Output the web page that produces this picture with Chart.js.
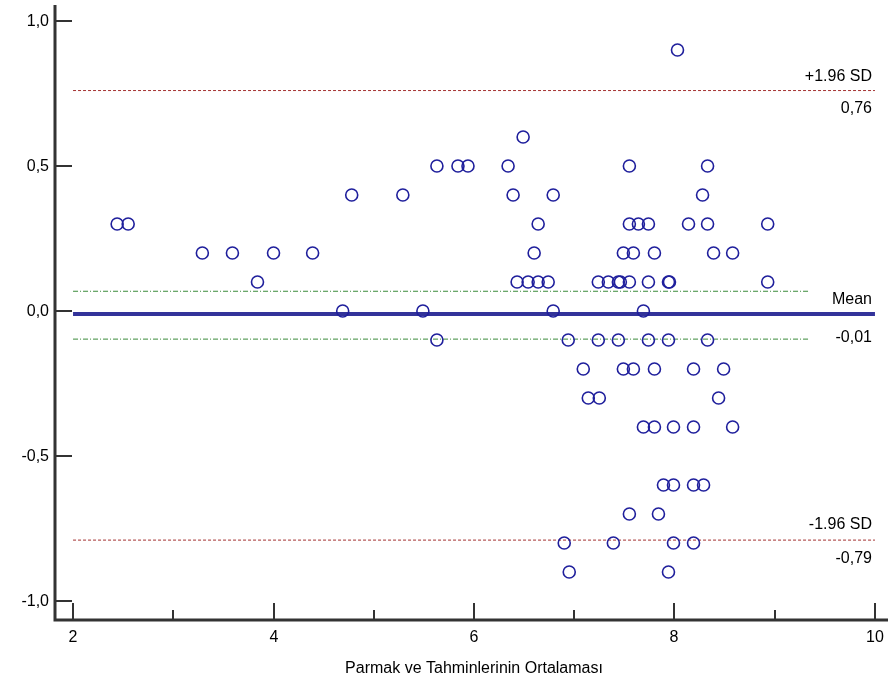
<!DOCTYPE html>
<html>
<head>
<meta charset="utf-8">
<script src="https://cdn.jsdelivr.net/npm/chart.js@4.4.1/dist/chart.umd.min.js"></script>
<style>
  html, body { margin: 0; padding: 0; background: #fff; }
  #wrap { width: 890px; height: 686px; }
</style>
</head>
<body>
<div id="wrap"><canvas id="baChart"></canvas></div>
<script>
// Averages of the two methods (x) and their differences (y)
const avgValues = [
  8.03,
  6.49,
  5.63, 5.84, 5.94, 6.34, 7.55, 8.33,
  4.78, 5.29, 6.39, 6.79, 8.28,
  2.44, 2.55, 6.64, 7.55, 7.64, 7.74, 8.14, 8.33, 8.93,
  3.29, 3.59, 4.00, 4.39, 6.60, 7.49, 7.59, 7.80, 8.39, 8.58,
  3.84, 6.43, 6.54, 6.64, 6.74, 7.24, 7.34, 7.44, 7.46, 7.55, 7.74, 7.94, 7.95, 8.93,
  4.69, 5.49, 6.79, 7.69,
  5.63, 6.94, 7.24, 7.44, 7.74, 7.94, 8.33,
  7.09, 7.49, 7.59, 7.80, 8.19, 8.49,
  7.14, 7.25, 8.44,
  7.69, 7.80, 7.99, 8.19, 8.58,
  7.89, 7.99, 8.19, 8.29,
  7.55, 7.84,
  6.90, 7.39, 7.99, 8.19,
  6.95, 7.94
];
const diffValues = [
  0.9,
  0.6,
  0.5, 0.5, 0.5, 0.5, 0.5, 0.5,
  0.4, 0.4, 0.4, 0.4, 0.4,
  0.3, 0.3, 0.3, 0.3, 0.3, 0.3, 0.3, 0.3, 0.3,
  0.2, 0.2, 0.2, 0.2, 0.2, 0.2, 0.2, 0.2, 0.2, 0.2,
  0.1, 0.1, 0.1, 0.1, 0.1, 0.1, 0.1, 0.1, 0.1, 0.1, 0.1, 0.1, 0.1, 0.1,
  0.0, 0.0, 0.0, 0.0,
  -0.1, -0.1, -0.1, -0.1, -0.1, -0.1, -0.1,
  -0.2, -0.2, -0.2, -0.2, -0.2, -0.2,
  -0.3, -0.3, -0.3,
  -0.4, -0.4, -0.4, -0.4, -0.4,
  -0.6, -0.6, -0.6, -0.6,
  -0.7, -0.7,
  -0.8, -0.8, -0.8, -0.8,
  -0.9, -0.9
];

const meanDiff = -0.01;
const upperLoA = 0.76;
const lowerLoA = -0.79;
const ciUpper = 0.068;
const ciLower = -0.097;

const xTicks = [2, 3, 4, 5, 6, 7, 8, 9, 10];
const xTickLabels = ['2', '', '4', '', '6', '', '8', '', '10'];
const yTicks = [1, 0.5, 0, -0.5, -1];
const yTickLabels = ['1,0', '0,5', '0,0', '-0,5', '-1,0'];
const xTitle = 'Parmak ve Tahminlerinin Ortalaması';

const FONT = '16px "Liberation Sans", Arial, sans-serif';

// draws the detached axes, ticks and the right-hand line labels
const axesPlugin = {
  id: 'axesPlugin',
  afterDraw(chart) {
    const ctx = chart.ctx;
    const xs = chart.scales.x, ys = chart.scales.y;
    const area = chart.chartArea;
    ctx.save();
    ctx.strokeStyle = '#333';
    ctx.lineWidth = 3;
    ctx.lineCap = 'butt';
    // axis lines
    ctx.beginPath();
    ctx.moveTo(area.left, area.top);
    ctx.lineTo(area.left, area.bottom);
    ctx.lineTo(area.right, area.bottom);
    ctx.stroke();

    ctx.lineWidth = 2;
    ctx.fillStyle = '#000';
    ctx.font = FONT;
    // y ticks
    ctx.textAlign = 'right';
    ctx.textBaseline = 'middle';
    yTicks.forEach((v, i) => {
      const py = Math.round(ys.getPixelForValue(v));
      ctx.beginPath();
      ctx.moveTo(area.left, py);
      ctx.lineTo(area.left + 17, py);
      ctx.stroke();
      ctx.fillText(yTickLabels[i], area.left - 6, py + 1);
    });
    // x ticks
    ctx.textAlign = 'center';
    ctx.textBaseline = 'top';
    xTicks.forEach((v, i) => {
      const px = Math.round(xs.getPixelForValue(v));
      const len = xTickLabels[i] ? 17 : 10;
      ctx.beginPath();
      ctx.moveTo(px, area.bottom);
      ctx.lineTo(px, area.bottom - len);
      ctx.stroke();
      if (xTickLabels[i]) ctx.fillText(xTickLabels[i], px, area.bottom + 10);
    });
    // x title
    const midX = (xs.getPixelForValue(2) + xs.getPixelForValue(10)) / 2;
    ctx.fillText(xTitle, midX, area.bottom + 41);

    // labels of the reference lines
    ctx.textAlign = 'right';
    const lx = xs.getPixelForValue(10) - 3;
    const lab = (txt, v, dy) => {
      ctx.textBaseline = 'middle';
      ctx.fillText(txt, lx, ys.getPixelForValue(v) + dy);
    };
    lab('+1.96 SD', upperLoA, -14);
    lab('0,76', upperLoA, 18);
    lab('Mean', meanDiff, -14);
    lab('-0,01', meanDiff, 24);
    lab('-1.96 SD', lowerLoA, -16);
    lab('-0,79', lowerLoA, 18);
    ctx.restore();
  }
};

const hLine = (y, x2) => [{ x: 2, y: y }, { x: x2, y: y }];

const scatterData = avgValues.map((x, i) => ({ x: x, y: diffValues[i] }));

new Chart(document.getElementById('baChart').getContext('2d'), {
  type: 'scatter',
  data: {
    datasets: [
      {
        label: 'Differences',
        data: scatterData,
        pointStyle: 'circle',
        pointRadius: 6,
        pointHoverRadius: 6,
        borderColor: '#1f1f9c',
        backgroundColor: 'rgba(0,0,0,0)',
        borderWidth: 1.6
      },
      {
        type: 'line',
        label: 'Mean',
        data: hLine(meanDiff, 10),
        borderColor: '#33339a',
        borderWidth: 4,
        pointRadius: 0,
        fill: false
      },
      {
        type: 'line',
        label: 'CI upper',
        data: hLine(ciUpper, 9.35),
        borderColor: '#3a8a3a',
        borderWidth: 1,
        borderDash: [5, 2, 1, 2],
        pointRadius: 0,
        fill: false
      },
      {
        type: 'line',
        label: 'CI lower',
        data: hLine(ciLower, 9.35),
        borderColor: '#3a8a3a',
        borderWidth: 1,
        borderDash: [5, 2, 1, 2],
        pointRadius: 0,
        fill: false
      },
      {
        type: 'line',
        label: '+1.96 SD',
        data: hLine(upperLoA, 10),
        borderColor: '#a33030',
        borderWidth: 1,
        borderDash: [3, 2],
        pointRadius: 0,
        fill: false
      },
      {
        type: 'line',
        label: '-1.96 SD',
        data: hLine(lowerLoA, 10),
        borderColor: '#a33030',
        borderWidth: 1,
        borderDash: [3, 2],
        pointRadius: 0,
        fill: false
      }
    ]
  },
  options: {
    responsive: true,
    maintainAspectRatio: false,
    animation: false,
    layout: { autoPadding: false, padding: { left: 55, top: 5, right: 2, bottom: 66 } },
    plugins: {
      legend: { display: false },
      tooltip: { enabled: false }
    },
    scales: {
      x: { type: 'linear', display: false, min: 1.82, max: 10.13 },
      y: { type: 'linear', display: false, min: -1.0655, max: 1.055 }
    }
  },
  plugins: [axesPlugin]
});
</script>
</body>
</html>
